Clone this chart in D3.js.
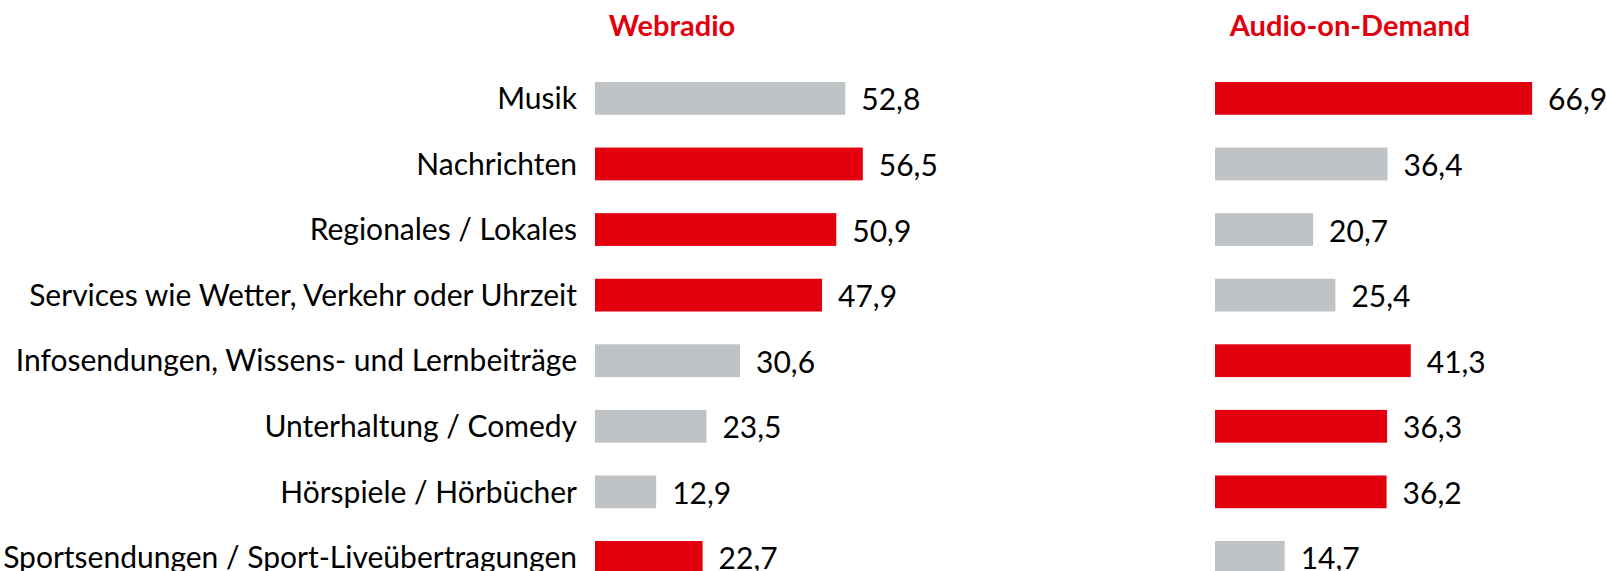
<!DOCTYPE html>
<html>
<head>
<meta charset="utf-8">
<script src="https://cdn.jsdelivr.net/npm/d3@7"></script>
<style>
  html, body { margin: 0; padding: 0; background: #fff; }
  svg text { font-family: Lato, "Open Sans", sans-serif; fill: #000; }
</style>
</head>
<body>
<div id="chart"></div>
<script>
const categories = [
  "Musik",
  "Nachrichten",
  "Regionales / Lokales",
  "Services wie Wetter, Verkehr oder Uhrzeit",
  "Infosendungen, Wissens- und Lernbeiträge",
  "Unterhaltung / Comedy",
  "Hörspiele / Hörbücher",
  "Sportsendungen / Sport-Liveübertragungen"
];
const webradioValues = [52.8, 56.5, 50.9, 47.9, 30.6, 23.5, 12.9, 22.7];
const aodValues      = [66.9, 36.4, 20.7, 25.4, 41.3, 36.3, 36.2, 14.7];
// true = red highlight
const webradioHighlight = [false, true, true, true, false, false, false, true];
const aodHighlight      = [true, false, false, false, true, true, true, false];
const panelTitles = ["Webradio", "Audio-on-Demand"];

const WIDTH = 1607, HEIGHT = 571;
const RED = "#e2000f", GREY = "#bfc3c5";

const svg = d3.select("#chart").append("svg")
  .attr("width", WIDTH)
  .attr("height", HEIGHT);

const y = d3.scaleBand()
  .domain(categories)
  .range([65.6, 590.2])
  .paddingInner(0.5)
  .paddingOuter(0.25);

const x = d3.scaleLinear()
  .domain([0, 70])
  .range([0, 331.8]);

const fmt = d3.formatLocale({ decimal: ",", thousands: ".", grouping: [3], currency: ["", "€"] }).format(".1f");

const panels = [
  { title: panelTitles[0], values: webradioValues, highlight: webradioHighlight, x0: 595, titleX: 672 },
  { title: panelTitles[1], values: aodValues, highlight: aodHighlight, x0: 1215, titleX: 1350 }
];

// category labels (left of the first panel)
svg.append("g")
  .selectAll("text")
  .data(categories)
  .enter().append("text")
  .attr("x", 577)
  .attr("y", d => y(d) + y.bandwidth() / 2)
  .attr("dy", "0.36em")
  .attr("text-anchor", "end")
  .style("font-size", "30px")
  .text(d => d);

panels.forEach(p => {
  const g = svg.append("g").attr("transform", "translate(" + p.x0 + ",0)");

  svg.append("text")
    .attr("x", p.titleX)
    .attr("y", 36)
    .attr("text-anchor", "middle")
    .style("font-size", "29px")
    .style("font-weight", "bold")
    .style("fill", RED)
    .text(p.title);

  const rows = categories.map((c, i) => ({ cat: c, value: p.values[i], hi: p.highlight[i] }));

  g.selectAll("rect")
    .data(rows)
    .enter().append("rect")
    .attr("x", 0)
    .attr("y", d => y(d.cat))
    .attr("width", d => x(d.value))
    .attr("height", y.bandwidth())
    .attr("fill", d => d.hi ? RED : GREY);

  g.selectAll("text.value")
    .data(rows)
    .enter().append("text")
    .attr("class", "value")
    .attr("x", d => x(d.value) + 16)
    .attr("y", d => y(d.cat) + y.bandwidth() / 2)
    .attr("dy", "0.4em")
    .style("font-size", "30px")
    .text(d => fmt(d.value));
});
</script>
</body>
</html>
